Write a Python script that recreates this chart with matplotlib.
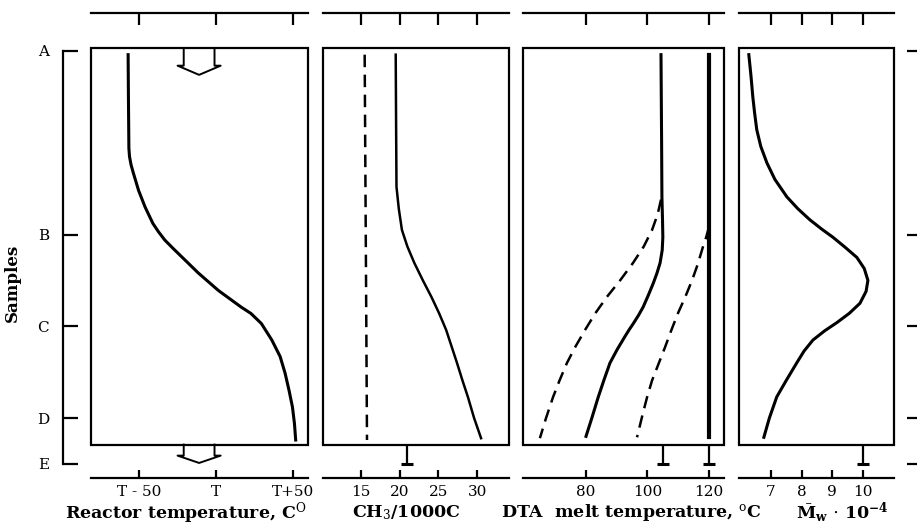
import matplotlib
matplotlib.use('Agg')
import matplotlib.pyplot as plt
import matplotlib.transforms as mtransforms
from matplotlib.patches import Rectangle

plt.rcParams['font.family'] = ['DejaVu Serif', 'DejaVu Sans']
plt.rcParams['mathtext.fontset'] = 'dejavuserif'

W, H = 917, 531

# ---------------- data ----------------
samples = ['A', 'B', 'C', 'D', 'E']
sample_pos = [0, 2, 3, 4, 4.5]          # position along reactor (A..E)

# Panel 1: reactor temperature (relative to T)
temp_ticks = [-50, 0, 50]
temp_labels = ['T - 50', 'T', 'T+50']
temp_pos = [0.04, 0.5, 1.06, 1.15, 1.24, 1.33, 1.52, 1.70, 1.88, 1.97, 2.06,
            2.15, 2.24, 2.42, 2.61, 2.79, 2.86, 2.97, 3.15, 3.33, 3.51, 3.70,
            3.88, 4.06, 4.24]
temp_val = [-57.1, -56.9, -56.6, -56.2, -55.2, -53.7, -50.3, -46.1, -41.0,
            -37.4, -33.3, -28.0, -22.5, -11.5, 1.5, 16.2, 22.6, 29.4, 36.2,
            41.6, 44.8, 47.4, 49.6, 50.9, 51.7]
# feed / outlet arrows (offset from T)
arrow_x = [-21, -21, -25, -11, 3, -1, -1]
arrow_top_y = [-0.03, 0.16, 0.16, 0.26, 0.16, 0.16, -0.03]
arrow_bot_y = [4.29, 4.41, 4.41, 4.49, 4.41, 4.41, 4.29]

# Panel 2: CH3 / 1000 C
ch3_ticks = [15, 20, 25, 30]
ch3_dash_pos = [0.04, 4.24]
ch3_dash_val = [15.5, 15.8]
ch3_pos = [0.04, 0.8, 1.48, 1.72, 1.95, 2.13, 2.31, 2.50, 2.68, 2.86, 3.04,
           3.22, 3.40, 3.59, 3.77, 4.00, 4.22]
ch3_val = [19.5, 19.55, 19.6, 19.9, 20.3, 21.0, 21.9, 23.0, 24.1, 25.1, 26.0,
           26.7, 27.4, 28.1, 28.8, 29.6, 30.5]
ch3_E = [21]

# Panel 3: DTA melt temperature
dta_ticks = [80, 100, 120]
dta_mid_pos = [0.04, 1.0, 1.59, 1.85, 2.03, 2.17, 2.31, 2.42, 2.53, 2.66,
               2.79, 2.88, 2.97, 3.04, 3.11, 3.25, 3.40, 3.59, 3.77, 4.00,
               4.20]
dta_mid_val = [104.4, 104.6, 104.7, 104.9, 105.0, 104.8, 104.1, 103.1, 101.9,
               100.3, 98.6, 97.1, 95.4, 94.0, 92.7, 90.2, 87.8, 85.8, 84.0,
               81.9, 80.0]
dta_low_pos = [1.62, 1.78, 1.95, 2.13, 2.31, 2.50, 2.68, 2.86, 3.04, 3.22,
               3.40, 3.59, 3.77, 4.00, 4.22]
dta_low_val = [104.4, 103.3, 101.5, 98.8, 95.3, 91.1, 86.8, 83.0, 79.7, 76.6,
               73.8, 71.4, 69.3, 67.0, 65.0]
dta_high_pos = [1.92, 2.03, 2.14, 2.32, 2.50, 2.68, 2.86, 3.04, 3.23, 3.41,
                3.59, 3.77, 3.95, 4.21]
dta_high_val = [120.0, 119.1, 118.0, 116.4, 114.5, 112.3, 109.9, 107.8, 105.7,
                103.6, 101.5, 99.9, 98.5, 96.6]
dta_top_pos = [0.04, 4.21]
dta_top_val = [120.0, 120.0]
dta_E = [105, 120]

# Panel 4: Mw * 1e-4
mw_ticks = [7, 8, 9, 10]
mw_pos = [0.04, 0.27, 0.50, 0.68, 0.86, 1.04, 1.22, 1.40, 1.59, 1.72, 1.84,
          1.94, 2.03, 2.14, 2.25, 2.37, 2.50, 2.62, 2.75, 2.86, 2.96, 3.05,
          3.15, 3.27, 3.40, 3.59, 3.77, 4.00, 4.21]
mw_val = [6.28, 6.35, 6.41, 6.47, 6.54, 6.67, 6.87, 7.13, 7.52, 7.88, 8.27,
          8.65, 9.02, 9.42, 9.80, 10.04, 10.16, 10.10, 9.90, 9.55, 9.15, 8.75,
          8.37, 8.08, 7.84, 7.50, 7.19, 6.95, 6.77]
mw_E = [10]

# ---------------- layout ----------------
Y_TOP_PX, Y_BOT_PX = 13, 478
A_PX, UNIT_PX = 51, 91.75
ylim = ((Y_BOT_PX - A_PX) / UNIT_PX, (Y_TOP_PX - A_PX) / UNIT_PX)
BOX_TOP, BOX_BOT = -0.03, 4.29
E_POS = sample_pos[-1]
LW = 1.6

fig = plt.figure(figsize=(W / 100, H / 100), dpi=100)
ax_bottom = 1 - Y_BOT_PX / H
ax_height = (Y_BOT_PX - Y_TOP_PX) / H


def panel(l_px, r_px, xlim, ticks, labels):
    ax = fig.add_axes([l_px / W, ax_bottom, (r_px - l_px) / W, ax_height])
    ax.set_xlim(*xlim)
    ax.set_ylim(*ylim)
    for s in ('left', 'right'):
        ax.spines[s].set_visible(False)
    for s in ('top', 'bottom'):
        ax.spines[s].set_linewidth(LW)
    ax.set_yticks([])
    ax.set_xticks(ticks)
    ax.set_xticklabels(labels)
    ax.tick_params(axis='x', direction='in', bottom=True, top=True,
                   labelbottom=True, labeltop=False, width=LW, pad=5,
                   labelsize=11)
    for t in ax.xaxis.get_major_ticks():
        t.tick1line.set_markersize(6)
        t.tick2line.set_markersize(8.5)
    trans = mtransforms.blended_transform_factory(ax.transAxes, ax.transData)
    ax.add_patch(Rectangle((0, BOX_TOP), 1, BOX_BOT - BOX_TOP, transform=trans,
                           fill=False, lw=LW, ec='black', clip_on=False))
    ax.patch.set_visible(False)
    return ax


def e_marker(ax, x):
    ax.plot([x, x], [BOX_BOT, E_POS], color='black', lw=LW,
            solid_capstyle='butt')
    ax.plot([x], [E_POS], marker='_', ms=8, mew=2.2, color='black')


# Panel 1
ax1 = panel(91, 308, (-81.2, 59.7), temp_ticks, temp_labels)
ax1.plot(temp_val, temp_pos, color='black', lw=2.2)
ax1.plot(arrow_x, arrow_top_y, color='black', lw=1.4)
ax1.plot(arrow_x, arrow_bot_y, color='black', lw=1.4)

# Panel 2
ax2 = panel(323, 509, (10.13, 34.1), ch3_ticks, [str(t) for t in ch3_ticks])
ax2.plot(ch3_dash_val, ch3_dash_pos, color='black', lw=1.8, dashes=(5, 3))
ax2.plot(ch3_val, ch3_pos, color='black', lw=1.8)
for v in ch3_E:
    e_marker(ax2, v)

# Panel 3
ax3 = panel(523, 724, (59.5, 124.9), dta_ticks, [str(t) for t in dta_ticks])
ax3.plot(dta_mid_val, dta_mid_pos, color='black', lw=2.2)
ax3.plot(dta_low_val, dta_low_pos, color='black', lw=1.8, dashes=(5, 3))
ax3.plot(dta_high_val, dta_high_pos, color='black', lw=1.8, dashes=(5, 3))
ax3.plot(dta_top_val, dta_top_pos, color='black', lw=3.0)
for v in dta_E:
    e_marker(ax3, v)

# Panel 4
ax4 = panel(739, 894, (5.96, 11.01), mw_ticks, [str(t) for t in mw_ticks])
ax4.plot(mw_val, mw_pos, color='black', lw=2.2)
for v in mw_E:
    e_marker(ax4, v)

# Sample axis (left)
axs = fig.add_axes([63 / W, ax_bottom, 20 / W, ax_height])
axs.set_ylim(*ylim)
axs.set_xticks([])
for s in ('top', 'bottom', 'right'):
    axs.spines[s].set_visible(False)
axs.spines['left'].set_linewidth(LW)
axs.spines['left'].set_bounds(sample_pos[0], sample_pos[-1])
axs.set_yticks(sample_pos)
axs.set_yticklabels(samples)
axs.tick_params(axis='y', direction='in', length=11, width=LW, pad=10,
                labelsize=11)
axs.patch.set_visible(False)

# Sample ticks (right)
axr = fig.add_axes([907 / W, ax_bottom, 10 / W, ax_height])
axr.set_ylim(*ylim)
axr.set_xticks([])
for s in axr.spines.values():
    s.set_visible(False)
axr.set_yticks(sample_pos)
axr.tick_params(axis='y', direction='in', length=8, width=LW, labelleft=False)
axr.patch.set_visible(False)

# Labels
fig.text(12 / W, 1 - 283 / H, 'Samples', rotation=90, ha='center',
         va='center', fontsize=12, fontweight='bold')
ly = 1 - 513 / H
fig.text(186 / W, ly, 'Reactor temperature, C$^{\\mathrm{O}}$', ha='center',
         va='center', fontsize=12.5, fontweight='bold')
fig.text(406 / W, ly, 'CH$_3$/1000C', ha='center', va='center', fontsize=12.5,
         fontweight='bold')
fig.text(631 / W, ly, 'DTA  melt temperature, $^{\\mathrm{o}}$C', ha='center',
         va='center', fontsize=12.5, fontweight='bold')
fig.text(842 / W, ly,
         r'$\bar{\mathbf{M}}_{\mathbf{w}}$ $\cdot$ 10$^{\mathbf{-4}}$',
         ha='center', va='center', fontsize=12.5, fontweight='bold')

fig.savefig('out.png', dpi=100)
